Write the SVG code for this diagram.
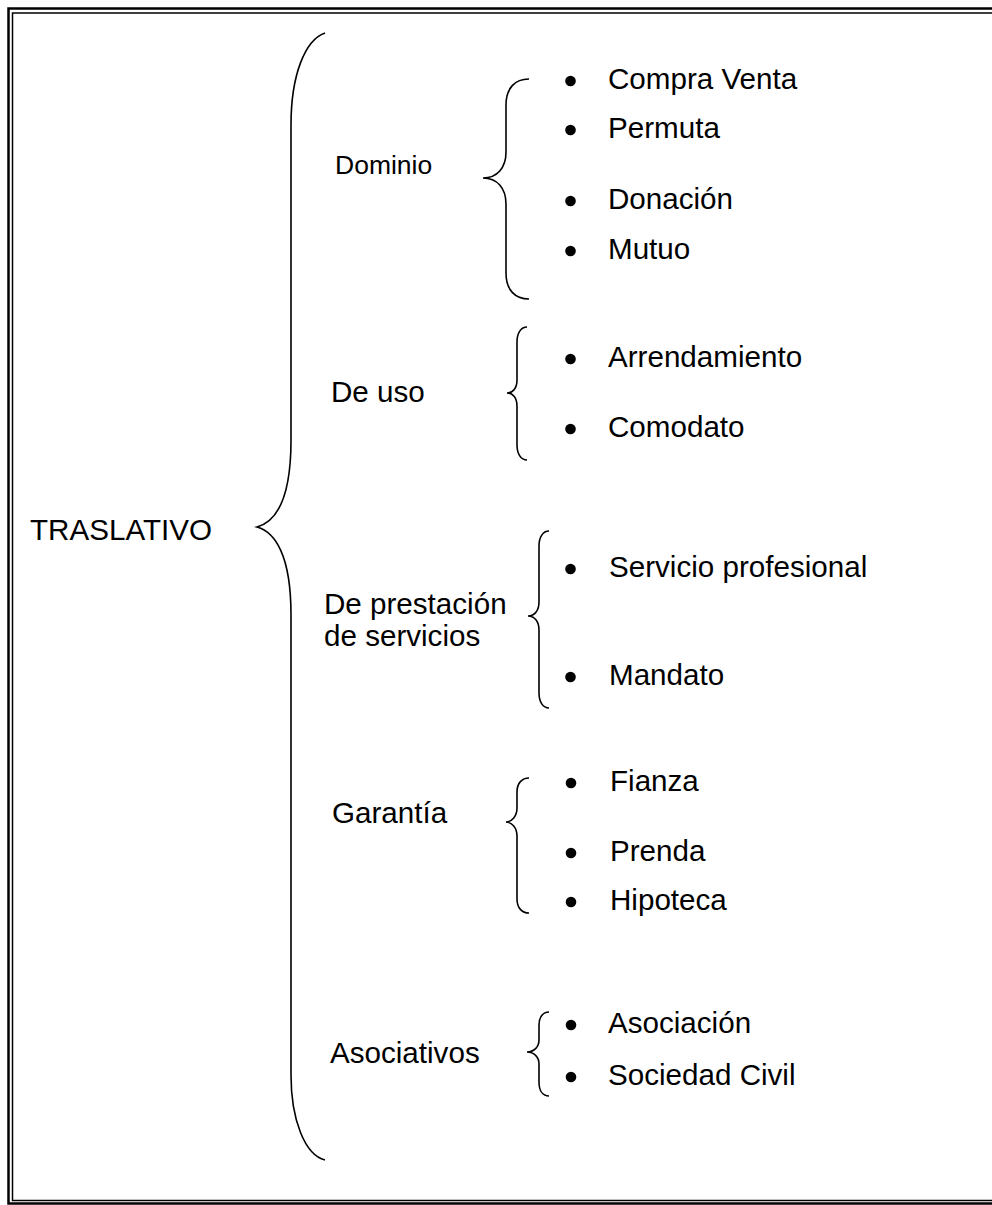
<svg xmlns="http://www.w3.org/2000/svg" width="992" height="1205" viewBox="0 0 992 1205">
<style>
  text { font-family: "Liberation Sans", Arial, sans-serif; font-size: 29.6px; fill: #000; }
  .brace { fill: none; stroke: #000; stroke-width: 1.6; }
  .dot { fill: #000; }
</style>
<rect x="0" y="0" width="992" height="1205" fill="#fff"/>
<g id="border">
  <rect x="8.5" y="8.5" width="1000" height="1195" fill="none" stroke="#000" stroke-width="2.5"/>
  <rect x="12.5" y="13" width="1000" height="1187.5" fill="none" stroke="#000" stroke-width="1.5"/>
</g>
<g id="connectors">
  <path class="brace" d="M325,33 C305,40 291,75 291,125 L291,440 C291,500 275,522 257,527 C275,532 291,555 291,615 L291,1075 C291,1120 305,1155 325,1160"/>
  <path class="brace" d="M529,79 C515,79 506,88 506,105 L506,152 C506,168 497,178 483,178 C497,178 506,188 506,204 L506,273 C506,290 515,299 529,299"/>
  <path class="brace" d="M527,327 C521,327 517,333 517,342 L517,380 C517,388 513,393 507,393 C513,393 517,398 517,406 L517,445 C517,454 521,460 527,460"/>
  <path class="brace" d="M549,531 C543,531 539,537 539,546 L539,602 C539,610 535,616 528,616 C535,616 539,622 539,630 L539,693 C539,702 543,708 549,708"/>
  <path class="brace" d="M529,778 C522,778 517,783 517,792 L517,808 C517,816 512,822 506,822 C512,822 517,828 517,836 L517,899 C517,908 522,913 529,913"/>
  <path class="brace" d="M549,1012 C543,1012 539,1017 539,1025 L539,1040 C539,1047 534,1052 527,1052 C534,1052 539,1057 539,1064 L539,1082 C539,1091 543,1096 549,1096"/>
</g>
<g id="traslativo"><text x="30" y="540">TRASLATIVO</text></g>
<g id="dominio">
  <text x="335" y="174" style="font-size:26.5px">Dominio</text>
  <circle class="dot" cx="570.5" cy="81" r="5.3"/><text x="608" y="89">Compra Venta</text>
  <circle class="dot" cx="570.5" cy="130" r="5.3"/><text x="608" y="138">Permuta</text>
  <circle class="dot" cx="570.5" cy="201" r="5.3"/><text x="608" y="209">Donación</text>
  <circle class="dot" cx="570.5" cy="251" r="5.3"/><text x="608" y="259">Mutuo</text>
</g>
<g id="de-uso">
  <text x="331" y="402">De uso</text>
  <circle class="dot" cx="570.5" cy="359" r="5.3"/><text x="608" y="367">Arrendamiento</text>
  <circle class="dot" cx="570.5" cy="429" r="5.3"/><text x="608" y="437">Comodato</text>
</g>
<g id="prestacion">
  <text x="324" y="614">De prestación</text>
  <text x="324" y="646">de servicios</text>
  <circle class="dot" cx="570.5" cy="569" r="5.3"/><text x="609" y="577">Servicio profesional</text>
  <circle class="dot" cx="570.5" cy="677" r="5.3"/><text x="609" y="685">Mandato</text>
</g>
<g id="garantia">
  <text x="332" y="823">Garantía</text>
  <circle class="dot" cx="571" cy="783" r="5.3"/><text x="610" y="791">Fianza</text>
  <circle class="dot" cx="571" cy="853" r="5.3"/><text x="610" y="861">Prenda</text>
  <circle class="dot" cx="571" cy="902" r="5.3"/><text x="610" y="910">Hipoteca</text>
</g>
<g id="asociativos">
  <text x="330" y="1063">Asociativos</text>
  <circle class="dot" cx="571" cy="1025" r="5.3"/><text x="608" y="1033">Asociación</text>
  <circle class="dot" cx="571" cy="1077" r="5.3"/><text x="608" y="1085">Sociedad Civil</text>
</g>
</svg>
